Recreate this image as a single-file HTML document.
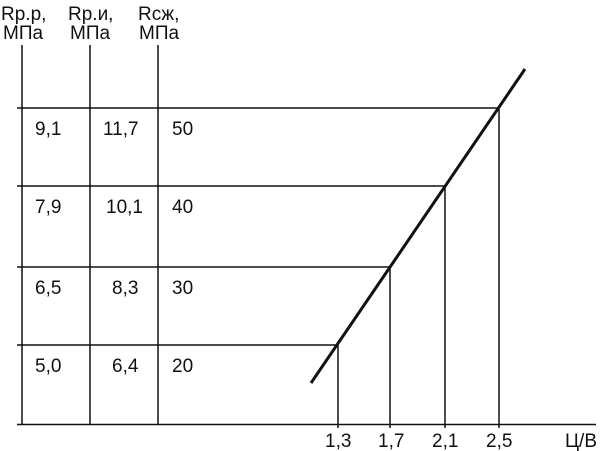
<!DOCTYPE html>
<html><head><style>body{margin:0;background:#fff}svg{display:block}</style></head><body>
<svg width="600" height="451" viewBox="0 0 600 451" font-family="Liberation Sans, sans-serif" font-size="19" fill="#111">
<g stroke="#111" stroke-width="1.5">
<line x1="22" y1="45" x2="22" y2="425"/>
<line x1="90" y1="45" x2="90" y2="425"/>
<line x1="158" y1="45" x2="158" y2="425"/>
<line x1="17" y1="424.5" x2="596" y2="424.5"/>
<line x1="17" y1="108" x2="499" y2="108"/>
<line x1="17" y1="186" x2="445" y2="186"/>
<line x1="17" y1="267" x2="390" y2="267"/>
<line x1="17" y1="345" x2="338" y2="345"/>
<line x1="499" y1="108" x2="499" y2="428"/>
<line x1="445" y1="186" x2="445" y2="428"/>
<line x1="390" y1="267" x2="390" y2="428"/>
<line x1="338" y1="345" x2="338" y2="428"/>
</g>
<line x1="311" y1="383" x2="525" y2="69" stroke="#111" stroke-width="3"/>
<text x="1" y="20">Rр.р,</text><text x="3" y="39">МПа</text>
<text x="68" y="20">Rр.и,</text><text x="70" y="39">МПа</text>
<text x="138" y="20">Rсж,</text><text x="139" y="39">МПа</text>
<text x="35" y="135">9,1</text><text x="103" y="135">11,7</text><text x="172" y="135">50</text>
<text x="35" y="213">7,9</text><text x="106" y="213">10,1</text><text x="172" y="213">40</text>
<text x="35" y="294">6,5</text><text x="112" y="294">8,3</text><text x="172" y="294">30</text>
<text x="35" y="372">5,0</text><text x="112" y="372">6,4</text><text x="172" y="372">20</text>
<text x="325" y="447">1,3</text><text x="378" y="447">1,7</text><text x="432" y="447">2,1</text><text x="486" y="447">2,5</text>
<text x="565" y="447">Ц/В</text>
</svg>
</body></html>
